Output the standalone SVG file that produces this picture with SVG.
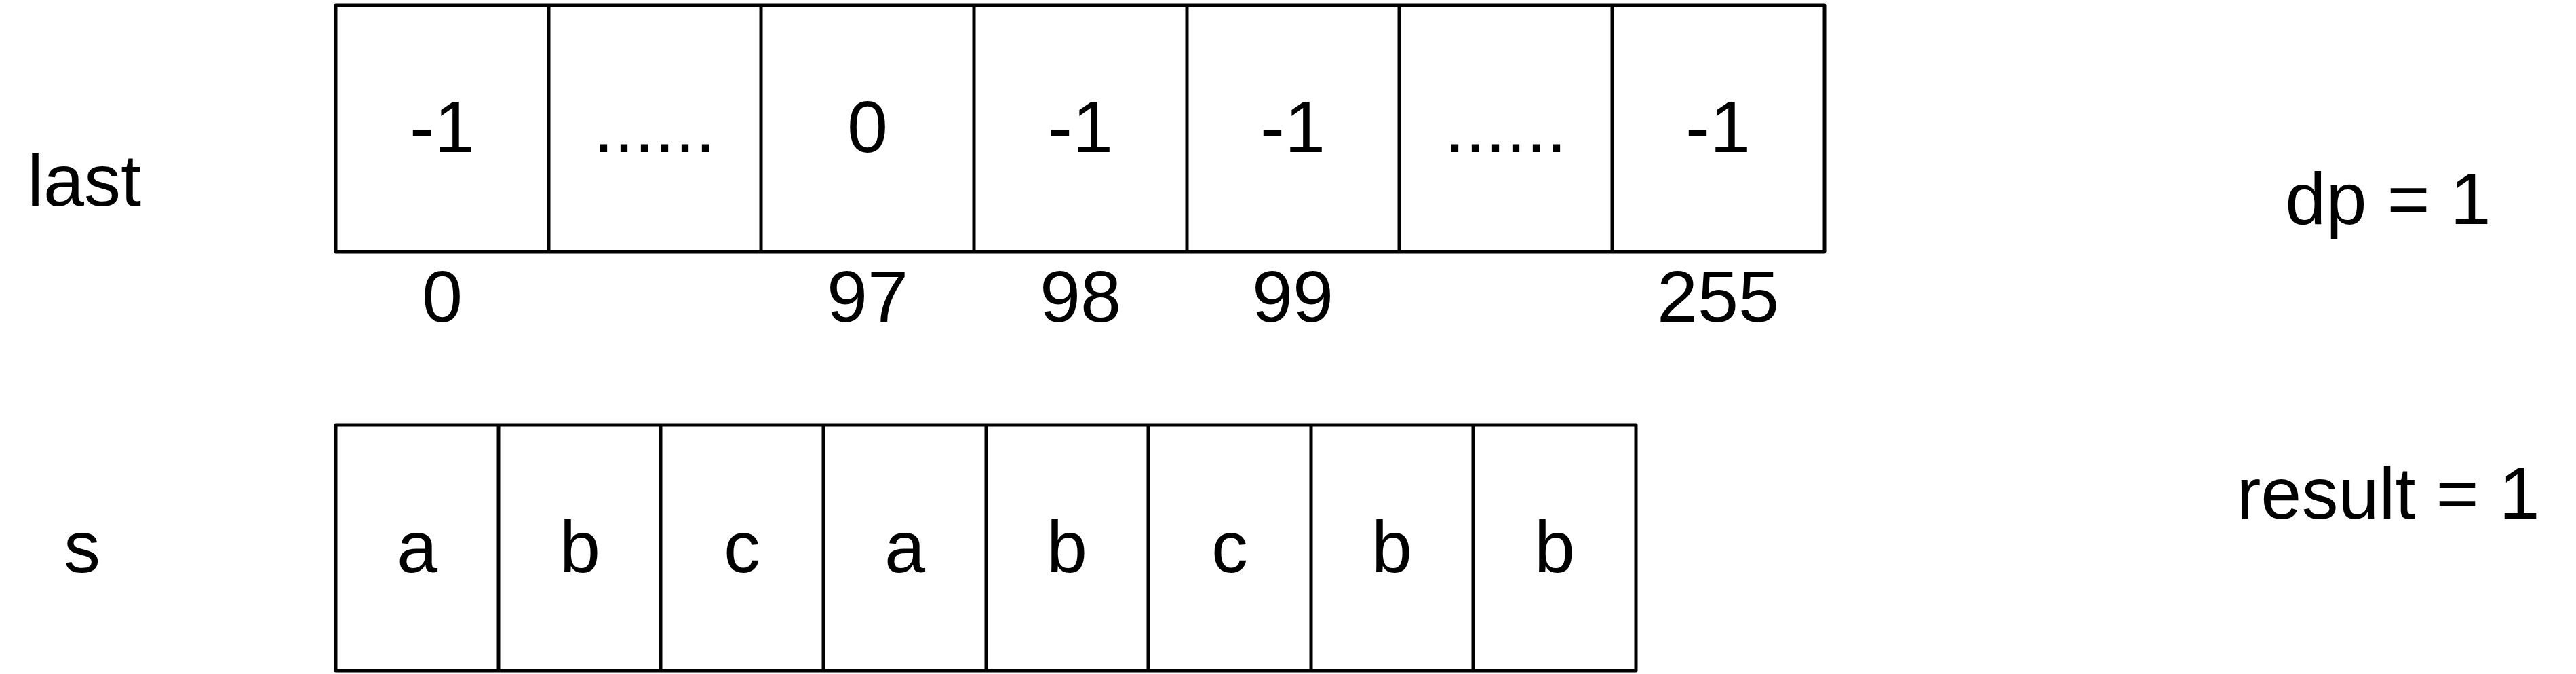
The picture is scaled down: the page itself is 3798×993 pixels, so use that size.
<svg xmlns="http://www.w3.org/2000/svg" width="3798" height="993" viewBox="0 0 3798 993">
<style>
.box{fill:#fff;stroke:#000;stroke-width:5;stroke-linejoin:round}
.div{stroke:#000;stroke-width:5}
text{font-family:"Liberation Sans",Arial,Helvetica,sans-serif;font-size:108px;fill:#000}
.c{text-anchor:middle}
</style>
<rect width="3798" height="993" fill="#fff"/>
<g id="label-last"><text x="40" y="303">last</text></g>
<g id="label-s"><text class="c" x="121" y="843">s</text></g>
<g id="array-last">
<rect class="box" x="495" y="8" width="2195" height="363"/>
<g class="div">
<line x1="809" y1="8" x2="809" y2="371"/>
<line x1="1122" y1="8" x2="1122" y2="371"/>
<line x1="1436" y1="8" x2="1436" y2="371"/>
<line x1="1750" y1="8" x2="1750" y2="371"/>
<line x1="2063" y1="8" x2="2063" y2="371"/>
<line x1="2377" y1="8" x2="2377" y2="371"/>
</g>
<text class="c" x="652" y="224">-1</text>
<text class="c" x="965" y="224">......</text>
<text class="c" x="1279" y="224">0</text>
<text class="c" x="1593" y="224">-1</text>
<text class="c" x="1906" y="224">-1</text>
<text class="c" x="2220" y="224">......</text>
<text class="c" x="2533" y="224">-1</text>
</g>
<g id="indices">
<text class="c" x="652" y="474">0</text>
<text class="c" x="1279" y="474">97</text>
<text class="c" x="1593" y="474">98</text>
<text class="c" x="1906" y="474">99</text>
<text class="c" x="2533" y="474">255</text>
</g>
<g id="array-s">
<rect class="box" x="495" y="626" width="1917" height="362"/>
<g class="div">
<line x1="735" y1="626" x2="735" y2="988"/>
<line x1="974" y1="626" x2="974" y2="988"/>
<line x1="1214" y1="626" x2="1214" y2="988"/>
<line x1="1454" y1="626" x2="1454" y2="988"/>
<line x1="1693" y1="626" x2="1693" y2="988"/>
<line x1="1933" y1="626" x2="1933" y2="988"/>
<line x1="2172" y1="626" x2="2172" y2="988"/>
</g>
<text class="c" x="615" y="843">a</text>
<text class="c" x="855" y="843">b</text>
<text class="c" x="1094" y="843">c</text>
<text class="c" x="1334" y="843">a</text>
<text class="c" x="1573" y="843">b</text>
<text class="c" x="1813" y="843">c</text>
<text class="c" x="2052" y="843">b</text>
<text class="c" x="2292" y="843">b</text>
</g>
<g id="dp"><text class="c" x="3521" y="330">dp = 1</text></g>
<g id="result"><text class="c" x="3521" y="764">result = 1</text></g>
<g id="connectors"></g>
</svg>
